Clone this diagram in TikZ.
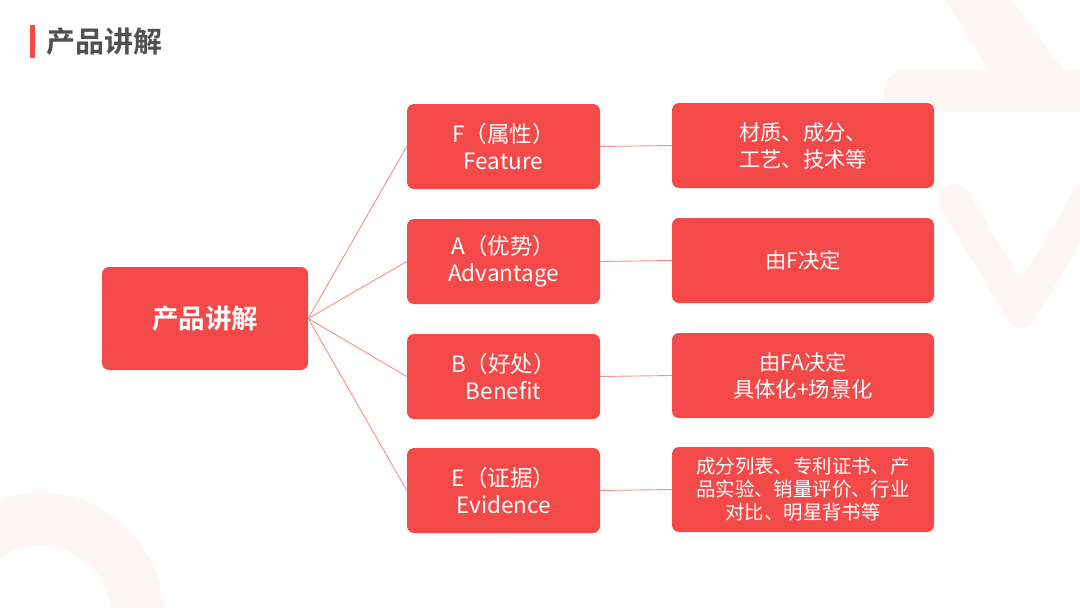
\documentclass[tikz,border=0pt]{standalone}
\usepackage{fontspec}
\setmainfont{Noto Sans CJK SC}[BoldFont={Noto Sans CJK SC Bold}]
\usepackage{tikz}

\definecolor{boxred}{HTML}{F34949}
\definecolor{linkred}{HTML}{F3908A}
\definecolor{titlegray}{HTML}{505050}
\definecolor{bgpink}{HTML}{FEF5F5}

\begin{document}
\begin{tikzpicture}[x=1pt, y=-1pt,
    box/.style={fill=boxred, rounded corners=7pt, text=white, align=center, inner sep=0pt},
    mainbox/.style={box, minimum width=206pt, minimum height=103pt, font=\fontsize{26.5}{30}\selectfont\bfseries},
    midbox/.style={box, minimum width=193pt, minimum height=85pt, font=\fontsize{22.5}{27}\selectfont},
    rightbox/.style={box, minimum width=262pt, minimum height=85pt, font=\fontsize{21.3}{27}\selectfont},
    link/.style={draw=linkred, line width=0.9pt},
    bgshape/.style={draw=bgpink}]
    \useasboundingbox (0,0) rectangle (1080,608);
    % faint background shapes
    \fill[bgpink] (945,0) -- (1012,0) -- (1065,72) -- (990,72) -- cycle;
    \draw[bgshape, line width=42pt, line cap=round] (905,91) -- (1090,91);
    \draw[bgshape, line width=32pt, line cap=round, line join=round] (955,200) -- (1021,312) -- (1090,195);
    \draw[bgshape, line width=53pt] (40,617) circle (98);
    % title
    \fill[boxred] (30,25) rectangle (35,58);
    \node[anchor=west, text=titlegray, font=\fontsize{29}{32}\selectfont\bfseries, inner sep=0pt] (title) at (46,42) {产品讲解};
    % boxes
    \node[mainbox] (main) at (205,318.5) {产品讲解};
    \node[midbox] (f) at (503.5,146.5) {F（属性）\\Feature};
    \node[midbox] (a) at (503.5,261.5) {A（优势）\\Advantage};
    \node[midbox] (b) at (503.5,376.5) {B（好处）\\Benefit};
    \node[midbox] (e) at (503.5,490.5) {E（证据）\\Evidence};
    \node[rightbox] (f2) at (803,145.5) {材质、成分、\\工艺、技术等};
    \node[rightbox] (a2) at (803,260.5) {由F决定};
    \node[rightbox] (b2) at (803,375.5) {由FA决定\\具体化+场景化};
    \node[rightbox, font=\fontsize{19.4}{23}\selectfont] (e2) at (803,489.5) {成分列表、专利证书、产\\品实验、销量评价、行业\\对比、明星背书等};
    % connectors
    \draw[link] (main.east) -- (f.west);
    \draw[link] (main.east) -- (a.west);
    \draw[link] (main.east) -- (b.west);
    \draw[link] (main.east) -- (e.west);
    \draw[link] (f.east) -- (f2.west);
    \draw[link] (a.east) -- (a2.west);
    \draw[link] (b.east) -- (b2.west);
    \draw[link] (e.east) -- (e2.west);
\end{tikzpicture}
\end{document}
